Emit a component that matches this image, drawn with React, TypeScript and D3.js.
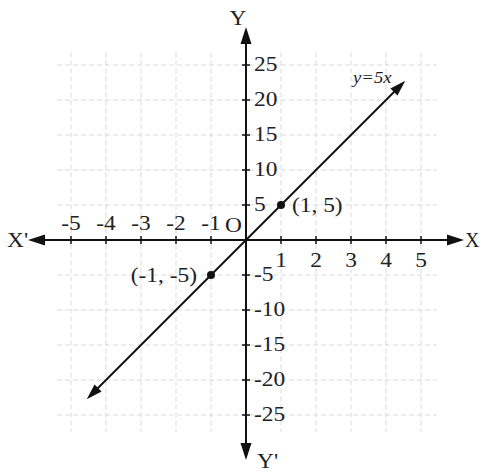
import React from 'react';
import * as d3 from 'd3';

// tick values on each axis
const xTicks = [-5, -4, -3, -2, -1, 1, 2, 3, 4, 5];
const yTicks = [-25, -20, -15, -10, -5, 5, 10, 15, 20, 25];
// grid lines and how far the grid reaches
const gridX = [-5, -4, -3, -2, -1, 0, 1, 2, 3, 4, 5];
const gridY = [-25, -20, -15, -10, -5, 0, 5, 10, 15, 20, 25];
const gridXExtent = [-5.4, 5.45];
const gridYExtent = [-27.4, 26.8];
// the line y = 5x, drawn between these x values
const lineX = [-4.55, 4.55];
const slope = 5;
// marked points
const points = [
    { x: 1, y: 5, label: '(1, 5)' },
    { x: -1, y: -5, label: '(-1, -5)' }
];

const W = 482;
const H = 472;
const FONT = '"Liberation Serif", "Times New Roman", serif';

function arrowHead(tipX: number, tipY: number, angle: number, len = 17, half = 5.5) {
    const c = Math.cos(angle);
    const s = Math.sin(angle);
    const bx = tipX - c * len;
    const by = tipY - s * len;
    return `M${tipX},${tipY}L${bx - s * half},${by + c * half}L${bx + s * half},${by - c * half}Z`;
}

// the scan is a little stretched sideways, so the text is widened to match
function T({ x, y, anchor = 'start', children, sx = 1.17, ...rest }: any) {
    return (
        <text transform={`translate(${x},${y}) scale(${sx},1)`} textAnchor={anchor} {...rest}>
            {children}
        </text>
    );
}

export default function App() {
    const x = d3.scaleLinear().domain([-5, 5]).range([71, 421]);
    const y = d3.scaleLinear().domain([-25, 25]).range([415, 65]);
    const ox = x(0);
    const oy = y(0);

    const line = d3
        .line<number>()
        .x((d) => x(d))
        .y((d) => y(slope * d));

    const x0 = x(lineX[0]);
    const y0 = y(slope * lineX[0]);
    const x1 = x(lineX[1]);
    const y1 = y(slope * lineX[1]);
    const ang = Math.atan2(y1 - y0, x1 - x0);

    const axisLeft = 28;
    const axisRight = 464;
    const axisTop = 27;
    const axisBottom = 460;

    return (
        <svg
            width={W}
            height={H}
            style={{ position: 'absolute', left: 0, top: 0, background: '#fff' }}
            fontFamily={FONT}
        >
            <g className="grid" stroke="#dadada" strokeWidth={1} strokeDasharray="5,3">
                {gridX.map((d) => (
                    <line
                        key={'gx' + d}
                        x1={x(d)}
                        x2={x(d)}
                        y1={y(gridYExtent[1])}
                        y2={y(gridYExtent[0])}
                    />
                ))}
                {gridY.map((d) => (
                    <line
                        key={'gy' + d}
                        x1={x(gridXExtent[0])}
                        x2={x(gridXExtent[1])}
                        y1={y(d)}
                        y2={y(d)}
                    />
                ))}
            </g>

            {/* axes */}
            <g stroke="#111" strokeWidth={2}>
                <line x1={axisLeft + 10} x2={axisRight - 10} y1={oy} y2={oy} />
                <line x1={ox} x2={ox} y1={axisTop + 10} y2={axisBottom - 10} />
                {xTicks.map((d) => (
                    <line key={'tx' + d} x1={x(d)} x2={x(d)} y1={oy - 4} y2={oy + 4} strokeWidth={1.5} />
                ))}
                {yTicks.map((d) => (
                    <line key={'ty' + d} x1={ox - 4} x2={ox + 4} y1={y(d)} y2={y(d)} strokeWidth={1.5} />
                ))}
            </g>
            <g fill="#111">
                <path d={arrowHead(axisLeft, oy, Math.PI)} />
                <path d={arrowHead(axisRight, oy, 0)} />
                <path d={arrowHead(ox, axisTop, -Math.PI / 2)} />
                <path d={arrowHead(ox, axisBottom, Math.PI / 2)} />
            </g>

            {/* y = 5x */}
            <path d={line([lineX[0] + 0.2, lineX[1] - 0.2]) || ''} stroke="#111" strokeWidth={2} fill="none" />
            <g fill="#111">
                <path d={arrowHead(x1, y1, ang, 16, 5)} />
                <path d={arrowHead(x0, y0, ang + Math.PI, 16, 5)} />
            </g>
            {points.map((p) => (
                <circle key={p.label} cx={x(p.x)} cy={y(p.y)} r={4} fill="#111" />
            ))}

            {/* text */}
            <g fontSize={20} fill="#222">
                {xTicks
                    .filter((d) => d < 0)
                    .map((d) => (
                        <T key={'lx' + d} x={x(d)} y={oy - 10} anchor="middle">
                            {d}
                        </T>
                    ))}
                {xTicks
                    .filter((d) => d > 0)
                    .map((d) => (
                        <T key={'lx' + d} x={x(d)} y={oy + 27} anchor="middle">
                            {d}
                        </T>
                    ))}
                {yTicks.map((d) => (
                    <T key={'ly' + d} x={ox + 8} y={y(d) + 6}>
                        {d}
                    </T>
                ))}
                <T x={ox - 4} y={oy - 8} anchor="end">O</T>
                <T x={x(1) + 11} y={y(5) + 7}>{points[0].label}</T>
                <T x={x(-1) - 14} y={y(-5) + 7} anchor="end">{points[1].label}</T>
                <T x={ox - 8} y={25} anchor="middle">Y</T>
                <T x={ox + 11} y={468}>Y'</T>
                <T x={7} y={247}>X'</T>
                <T x={465} y={247} sx={1}>X</T>
            </g>
            <T x={353} y={83} fontSize={17} fontStyle="italic" fill="#222" sx={1.1}>
                y=5x
            </T>
        </svg>
    );
}
